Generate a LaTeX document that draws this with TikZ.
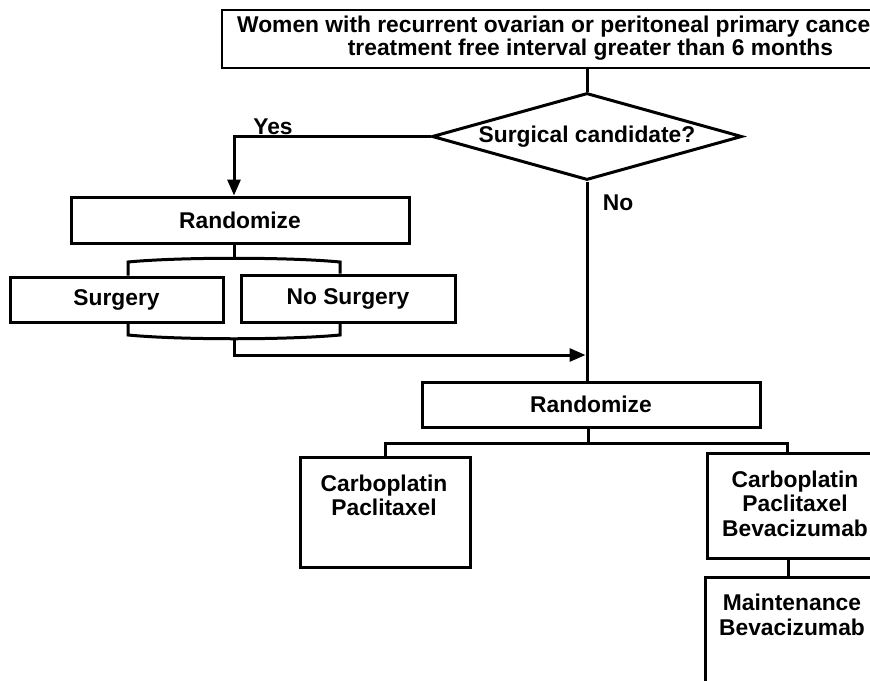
\documentclass[tikz,border=0pt]{standalone}
\usepackage{fontspec}
\setmainfont{Liberation Sans}
\usetikzlibrary{shapes.geometric,arrows.meta}
\begin{document}
\begin{tikzpicture}[x=1pt,y=-1pt,
  every node/.style={font=\fontsize{22.8}{24.5}\selectfont\bfseries},
  box/.style={draw, line width=3pt, inner sep=0pt, align=center},
  txt/.style={inner sep=0pt, align=center},
  ln/.style={line width=3pt},
  arr/.style={ln, -{Triangle[length=16pt,width=13pt]}}]
\useasboundingbox (0,0) rectangle (870,680);
\clip (0,0) rectangle (870,680);
% top box
\node[box, line width=1.5pt, minimum width=740pt, minimum height=58pt] (top) at (592,39) {};
\node[txt, anchor=base west] (t1) at (237,32) {Women with recurrent ovarian or peritoneal primary cance};
\node[txt, anchor=base] (t2) at (590.5,55) {treatment free interval greater than 6 months};
% decision
\node[draw, diamond, line width=3pt, minimum width=310pt, minimum height=87pt, aspect=3.56, inner sep=1pt] (dia) at (587,136.5) {Surgical candidate?};
\draw[ln] (dia.north |- top.south) -- (dia.north);
\node[txt] (yes) at (273,127) {Yes};
\node[txt] (no) at (618,203) {No};
% surgery branch
\node[box, minimum width=338pt, minimum height=46pt] (rand1) at (240,220) {Randomize};
\draw[arr] (dia.west) -| ([xshift=-6pt]rand1.north);
\node[box, minimum width=213pt, minimum height=45pt] (surg) at (116.5,299.5) {Surgery};
\node[box, minimum width=214pt, minimum height=47pt] (nosurg) at (348,298.5) {No Surgery};
\coordinate (bt) at (234,258.25);
\draw[ln] ([xshift=-6pt]rand1.south) -- (bt);
\coordinate (bl) at (128,262);
\coordinate (br) at (340,262);
\draw[ln] (surg.north -| bl) -- (bl) .. controls (180,257) and (288,257) .. (br) -- (nosurg.north -| br);
\coordinate (cl) at (128,335);
\coordinate (cr) at (340,335);
\draw[ln] (surg.south -| cl) -- (cl) .. controls (180,340) and (288,340) .. (cr) -- (nosurg.south -| cr);
\coordinate (sb) at (234,338.75);
\coordinate (mj) at (585.5,355);
\draw[arr] (sb) |- (mj);
% lower randomization
\node[box, minimum width=338pt, minimum height=45pt] (rand2) at (591,404.5) {Randomize};
\draw[ln] (dia.south) -- (dia.south |- rand2.north);
\coordinate (j2) at (588,443);
\draw[ln] (j2 |- rand2.south) -- (j2);
\node[box, minimum width=170pt, minimum height=110pt] (cpbox) at (385,512) {};
\node[txt] (cptxt) at (384,495.5) {Carboplatin\\Paclitaxel};
\node[box, minimum width=193pt, minimum height=105pt] (cpb) at (803.5,505.5) {};
\node[txt] (cpbtxt) at (795,503.5) {Carboplatin\\Paclitaxel\\Bevacizumab};
\node[box, minimum width=195pt, minimum height=143pt] (mb) at (802.5,648.5) {};
\node[txt] (mbtxt) at (792,615) {Maintenance\\Bevacizumab};
\coordinate (rb) at (787,443);
\draw[ln] (cpbox.north) |- (j2) -- (rb) -- (rb |- cpb.north);
\coordinate (mc) at (788,558);
\draw[ln] (mc |- cpb.south) -- (mc |- mb.north);
\end{tikzpicture}
\end{document}
